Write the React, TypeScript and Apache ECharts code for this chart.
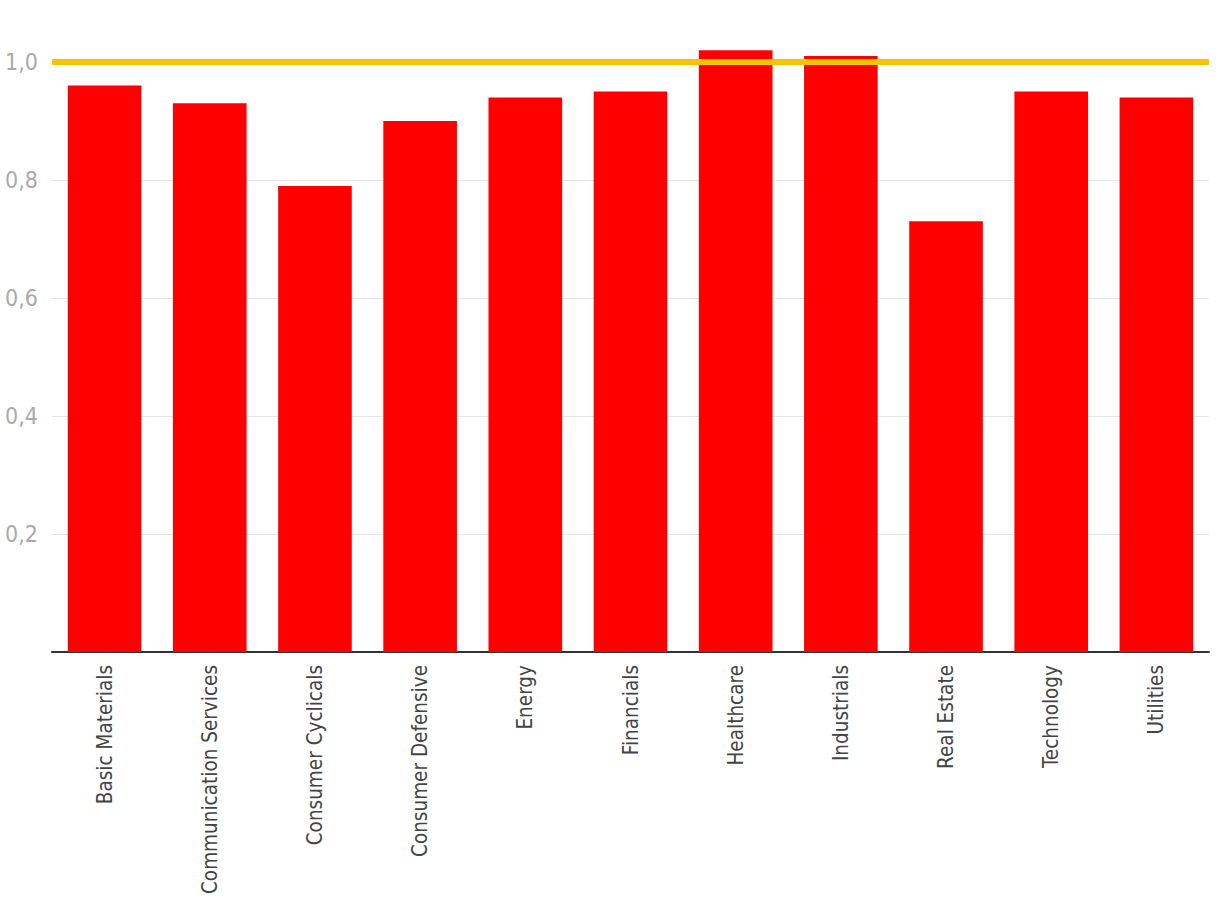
import React, { useEffect, useRef } from "react";
import * as echarts from "echarts";

const categories = [
  "Basic Materials",
  "Communication Services",
  "Consumer Cyclicals",
  "Consumer Defensive",
  "Energy",
  "Financials",
  "Healthcare",
  "Industrials",
  "Real Estate",
  "Technology",
  "Utilities",
];
const values = [0.96, 0.93, 0.79, 0.9, 0.94, 0.95, 1.02, 1.01, 0.73, 0.95, 0.94];
const referenceLevel = 1.0;

const FONT = "'DejaVu Sans Condensed', 'Liberation Sans Narrow', sans-serif";

export default function App() {
  const ref = useRef<HTMLDivElement>(null);
  useEffect(() => {
    if (!ref.current) return;
    const chart = echarts.init(ref.current, null, { renderer: "svg", width: 1220, height: 912 });
    chart.setOption({
      animation: false,
      grid: { left: 52, right: 11, top: 3, bottom: 260, containLabel: false },
      xAxis: {
        type: "category",
        data: categories,
        axisLine: { show: true, lineStyle: { color: "#333333", width: 2 } },
        axisTick: { show: false },
        axisLabel: {
          rotate: 90,
          margin: 13,
          color: "#444444",
          fontFamily: FONT,
          fontSize: 20.5,
          interval: 0,
        },
      },
      yAxis: {
        type: "value",
        min: 0,
        max: 1.1,
        interval: 0.2,
        axisLine: { show: false },
        axisTick: { show: false },
        splitLine: {
          show: true,
          showMaxLine: false,
          lineStyle: { color: "#e6e6e6", width: 1 },
        },
        axisLabel: {
          showMinLabel: false,
          showMaxLabel: false,
          margin: 14,
          color: "#aaaaaa",
          fontFamily: FONT,
          fontSize: 23,
          formatter: (v: number) => v.toFixed(1).replace(".", ","),
        },
      },
      series: [
        {
          type: "bar",
          data: values,
          barWidth: "70%",
          itemStyle: { color: "#ff0000" },
          markLine: {
            silent: true,
            symbol: ["none", "none"],
            label: { show: false },
            lineStyle: { color: "#f5c400", width: 6, type: "solid" },
            data: [{ yAxis: referenceLevel }],
          },
        },
      ],
    });
    return () => chart.dispose();
  }, []);
  return (
    <div
      ref={ref}
      style={{ position: "absolute", left: 0, top: 0, width: 1220, height: 912, background: "#ffffff" }}
    />
  );
}
